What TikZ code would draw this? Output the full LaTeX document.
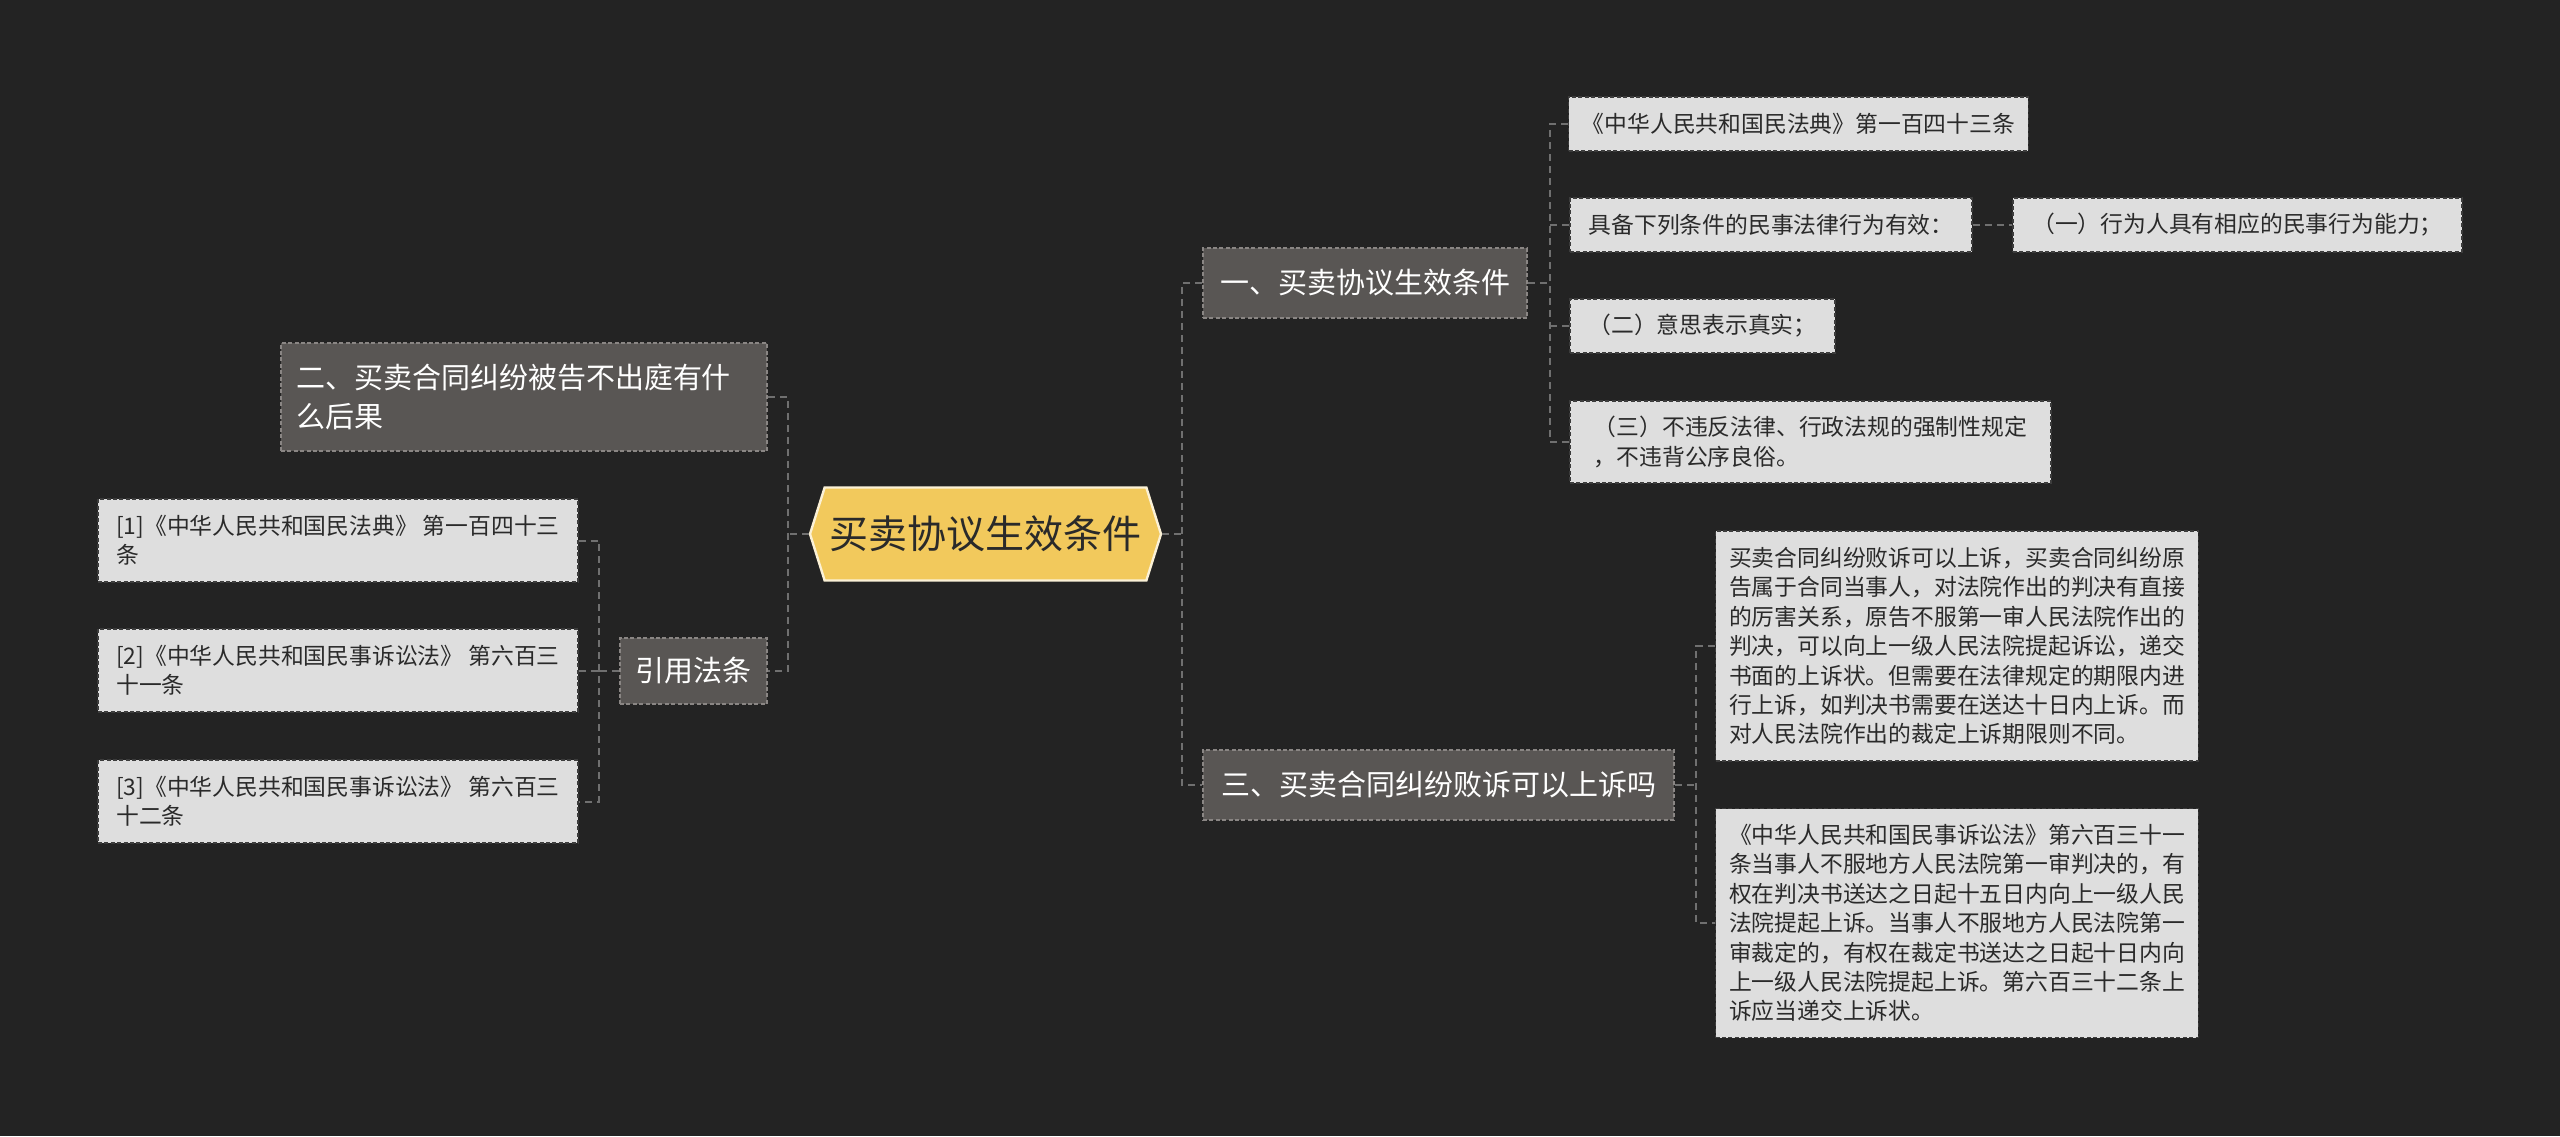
\documentclass[tikz,border=0pt]{standalone}
\usepackage{fontspec}
\setmainfont{Noto Sans CJK SC}
\usetikzlibrary{shapes.symbols}
\definecolor{bgdark}{HTML}{232323}
\definecolor{linkgray}{HTML}{707070}
\definecolor{topicfill}{HTML}{595654}
\definecolor{topicline}{HTML}{8A8684}
\definecolor{leaffill}{HTML}{DEDEDE}
\definecolor{leafline}{HTML}{3C3C3C}
\definecolor{leaftext}{HTML}{2A2A2A}
\definecolor{rootfill}{HTML}{F2C95C}
\definecolor{rootline}{HTML}{FBF1D6}

\begin{document}
\begin{tikzpicture}[x=0.25pt,y=-0.25pt,
  link/.style={draw=linkgray, line width=0.5pt, dash pattern=on 1.75pt off 1.25pt},
  topic/.style={draw=topicline, fill=topicfill, text=white, line width=0.4pt, dash pattern=on 1pt off 0.6pt,
    font=\fontsize{7.25pt}{9.75pt}\selectfont, minimum height=17.5pt, align=left},
  leaf/.style={draw=leafline, fill=leaffill, text=leaftext, line width=0.4pt, dash pattern=on 1pt off 0.6pt,
    font=\fontsize{5.7pt}{7.35pt}\selectfont, minimum height=13.5pt, align=left}]
\fill[bgdark] (0,0) rectangle (2560,1136);

% root
\node[signal, signal to=west and east, signal pointer angle=145, draw=rootline, fill=rootfill, line width=0.6pt,
  text=leaftext, font=\fontsize{9.75pt}{12pt}\selectfont, minimum width=87.75pt, minimum height=23.25pt,
  inner sep=0pt] (root) at (985.5,534) {买卖协议生效条件};

% first level
\node[topic, minimum width=81pt] (b1) at (1365,283) {一、买卖协议生效条件};
\node[topic, minimum width=117.75pt] (b3) at (1438.5,785) {三、买卖合同纠纷败诉可以上诉吗};
\node[topic, minimum height=27pt, text width=114pt, inner xsep=3.75pt] (b2) at (524,397) {二、买卖合同纠纷被告不出庭有什\\么后果};
\node[topic, minimum width=36.75pt, minimum height=16.5pt] (cite) at (693.5,671) {引用法条};

% leaves of b1
\node[leaf, minimum width=114.25pt] (r1) at (1798.5,124) {《中华人民共和国民法典》第一百四十三条};
\node[leaf, minimum width=100.5pt] (r2) at (1771,225) {具备下列条件的民事法律行为有效：};
\node[leaf, minimum width=112.25pt] (r2a) at (2237.5,225) {（一）行为人具有相应的民事行为能力；};
\node[leaf, minimum width=66.25pt] (r3) at (1702.5,326) {（二）意思表示真实；};
\node[leaf, minimum width=120.25pt, minimum height=20.5pt] (r4) at (1810.5,442) {（三）不违反法律、行政法规的强制性规定\\，不违背公序良俗。};

% leaves of b3
\node[leaf, minimum width=120.5pt, minimum height=57.5pt] (t1) at (1957,646) {买卖合同纠纷败诉可以上诉，买卖合同纠纷原\\告属于合同当事人，对法院作出的判决有直接\\的厉害关系，原告不服第一审人民法院作出的\\判决，可以向上一级人民法院提起诉讼，递交\\书面的上诉状。但需要在法律规定的期限内进\\行上诉，如判决书需要在送达十日内上诉。而\\对人民法院作出的裁定上诉期限则不同。};
\node[leaf, minimum width=120.5pt, minimum height=57.25pt] (t2) at (1957,923) {《中华人民共和国民事诉讼法》第六百三十一\\条当事人不服地方人民法院第一审判决的，有\\权在判决书送达之日起十五日内向上一级人民\\法院提起上诉。当事人不服地方人民法院第一\\审裁定的，有权在裁定书送达之日起十日内向\\上一级人民法院提起上诉。第六百三十二条上\\诉应当递交上诉状。};

% leaves of cite
\node[leaf, minimum width=120pt, minimum height=20.75pt] (l1) at (338,540.5) {[1]《中华人民共和国民法典》 第一百四十三\\条};
\node[leaf, minimum width=120pt, minimum height=20.75pt] (l2) at (338,670.5) {[2]《中华人民共和国民事诉讼法》 第六百三\\十一条};
\node[leaf, minimum width=120pt, minimum height=20.75pt] (l3) at (338,801.5) {[3]《中华人民共和国民事诉讼法》 第六百三\\十二条};

% connectors
\coordinate (rbus) at (1182,534);
\coordinate (lbus) at (788,534);
\coordinate (b1bus) at (1550,283);
\coordinate (b3bus) at (1696,785);
\coordinate (cbus) at (599,671);
\draw[link] (root.east) -- (rbus);
\draw[link] (b1.west) -| (rbus) |- (b3.west);
\draw[link] (root.west) -- (lbus);
\draw[link] (b2.east) -| (lbus) |- (cite.east);
\draw[link] (b1.east) -- (b1bus);
\draw[link] (r1.west) -| (b1bus) |- (r4.west);
\foreach \n in {r2,r3} \draw[link] (\n.west) -- (\n.west -| b1bus);
\draw[link] (r2.east) -- (r2a.west);
\draw[link] (b3.east) -- (b3bus);
\draw[link] (t1.west) -| (b3bus) |- (t2.west);
\draw[link] (cite.west) -- (cbus);
\draw[link] (l1.east) -| (cbus) |- (l3.east);
\draw[link] (l2.east) -- (l2.east -| cbus);
\end{tikzpicture}
\end{document}
